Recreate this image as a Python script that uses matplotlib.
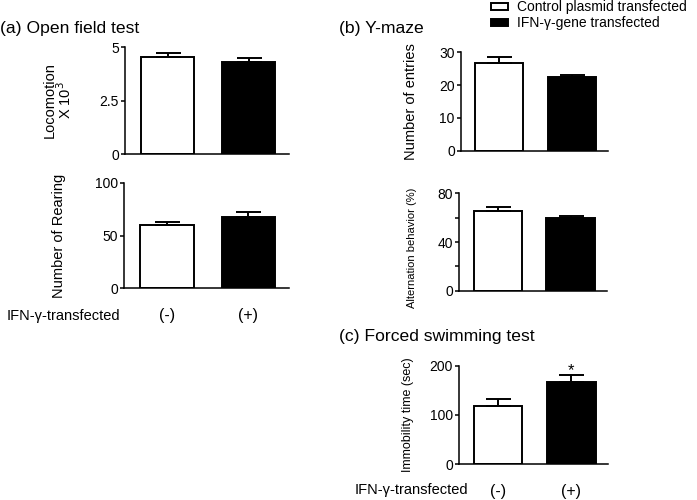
import matplotlib
matplotlib.use("Agg")
import matplotlib.pyplot as plt
from matplotlib.patches import Rectangle

plt.rcParams['font.family'] = ['Liberation Sans', 'DejaVu Sans']

groups = ["(-)", "(+)"]
group_names = ["Control plasmid transfected", "IFN-\u03b3-gene transfected"]
colors = ["white", "black"]

loco_mean = [4.52, 4.31]
loco_sem = [0.21, 0.19]
rear_mean = [59.7, 67.8]
rear_sem = [3.4, 4.5]
entries_mean = [26.6, 22.4]
entries_sem = [2.1, 0.8]
alt_mean = [65.5, 59.5]
alt_sem = [3.5, 1.6]
immob_mean = [118.9, 166.3]
immob_sem = [12.9, 14.8]

W, H = 697, 500
fig = plt.figure(figsize=(W / 100, H / 100), dpi=100)


def rect(x0, x1, ytop, ybot):
    return [x0 / W, 1 - ybot / H, (x1 - x0) / W, (ybot - ytop) / H]


def panel(r, means, sems, ylim, yticks, ylabel, lab_x, lab_fs, lab_y=0.5,
          minor=None, xlabels=False, capsize=9):
    ax = fig.add_axes(r)
    x = [0, 1]
    ax.bar(x, means, width=0.66, color=colors, edgecolor="black",
           linewidth=1.4, zorder=2)
    ax.errorbar(x, means, yerr=[[0, 0], sems], fmt="none", ecolor="black",
                elinewidth=1.4, capsize=capsize, capthick=1.4, zorder=3)
    ax.set_xlim(-0.53, 1.5)
    ax.set_ylim(*ylim)
    ax.set_yticks(yticks)
    if minor is not None:
        ax.set_yticks(minor, minor=True)
        ax.tick_params(axis="y", which="minor", length=3, width=1.1)
    ax.set_yticklabels([("%g" % t) for t in yticks])
    ax.spines["top"].set_visible(False)
    ax.spines["right"].set_visible(False)
    for s in ("left", "bottom"):
        ax.spines[s].set_linewidth(1.1)
    ax.tick_params(axis="y", which="major", length=3, width=1.1, pad=1.5,
                   labelsize=10)
    ax.set_xticks(x)
    if xlabels:
        ax.set_xticklabels(groups, fontsize=11.5)
        ax.tick_params(axis="x", length=0, pad=14.5)
    else:
        ax.set_xticklabels([])
        ax.tick_params(axis="x", length=0)
    ax.set_ylabel(ylabel, fontsize=lab_fs, linespacing=0.9)
    ax.yaxis.set_label_coords(lab_x, lab_y)
    return ax


ax1 = panel(rect(125, 289, 47, 154), loco_mean, loco_sem, (0, 5), [0, 2.5, 5],
            "Locomotion\nX 10$^3$", -0.31, 10.5)
ax2 = panel(rect(124, 289, 182.7, 288.3), rear_mean, rear_sem, (0, 100),
            [0, 50, 100], "Number of Rearing", -0.35, 10.5, xlabels=True)
ax3 = panel(rect(461, 608, 52.3, 150.7), entries_mean, entries_sem, (0, 30),
            [0, 10, 20, 30], "Number of entries", -0.29, 10.5)
ax4 = panel(rect(459, 607, 193.3, 290.7), alt_mean, alt_sem, (0, 80),
            [0, 40, 80], "Alternation behavior (%)", -0.285, 8, lab_y=0.445,
            minor=[20, 60])
ax5 = panel(rect(459, 608, 365.7, 464.3), immob_mean, immob_sem, (0, 200),
            [0, 100, 200], "Immobility time (sec)", -0.305, 9, xlabels=True)

ax5.annotate("*", xy=(1, immob_mean[1] + immob_sem[1]), xytext=(0, -2.5),
             textcoords="offset points", ha="center", va="bottom", fontsize=12)

fig.text(0 / W, 1 - 28 / H, "(a) Open field test", fontsize=12.6, va="center",
         ha="left")
fig.text(339 / W, 1 - 28 / H, "(b) Y-maze", fontsize=12.6, va="center",
         ha="left")
fig.text(339 / W, 1 - 337 / H, "(c) Forced swimming test", fontsize=12.6,
         va="center", ha="left")

fig.text(7 / W, 1 - 316 / H, "IFN-\u03b3-transfected", fontsize=10.5,
         va="center", ha="left")
fig.text(355 / W, 1 - 490 / H, "IFN-\u03b3-transfected", fontsize=10.5,
         va="center", ha="left")

# legend (drawn manually in figure pixel positions)
leg_rows = [(3.5, 10.0, 6.7), (19.5, 26.0, 23.5)]
for (yt, yb, yc), c, name in zip(leg_rows, colors, group_names):
    fig.add_artist(Rectangle((491 / W, 1 - yb / H), 17 / W, (yb - yt) / H,
                             transform=fig.transFigure, facecolor=c,
                             edgecolor="black", linewidth=1.4))
    fig.text(517 / W, 1 - yc / H, name, fontsize=10, va="center", ha="left")

fig.savefig("out.png", dpi=100)
